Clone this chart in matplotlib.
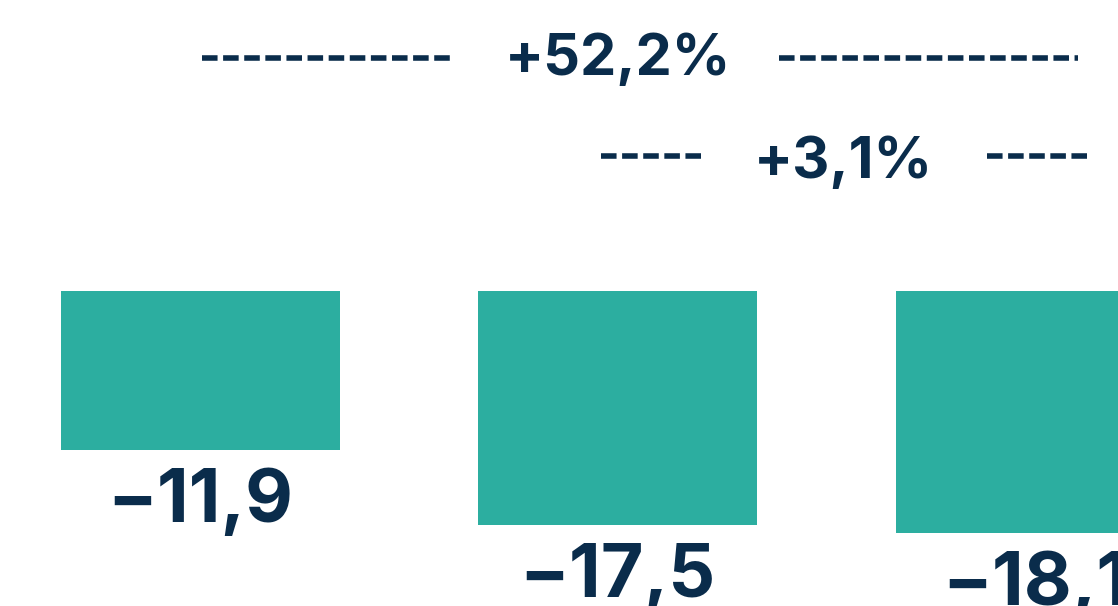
import matplotlib
matplotlib.use("Agg")
import matplotlib.pyplot as plt

# data
values = [-11.9, -17.5, -18.1]
value_labels = ["\u221211,9", "\u221217,5", "\u221218,1"]
changes = ["+52,2%", "+3,1%"]

TEAL = "#2CAEA0"
NAVY = "#0A2C4B"

plt.rcParams['font.family'] = ['Inter', 'DejaVu Sans']

fig = plt.figure(figsize=(11.18, 6.06), dpi=100)
ax = fig.add_axes([0, 0, 1, 1])

x = list(range(len(values)))
ax.bar(x, values, width=0.668, color=TEAL)

ax.set_xlim(-0.480, 2.198)
ax.set_ylim(-23.6, 21.8)
ax.axis("off")

# value labels under bars
for xi, v, lab in zip(x, values, value_labels):
    ax.text(xi, v - 5.4, lab, ha="center", va="baseline", fontsize=53,
            fontweight="bold", color=NAVY, clip_on=False)

# change brackets: dashed lines around label
dash = dict(color=NAVY, lw=4, linestyle=(0, (2.8, 1.0)), dash_capstyle="butt")

# bar 1 -> bar 3
ax.plot([0.004, 0.602], [17.48, 17.48], **dash)
ax.plot([1.385, 2.102], [17.48, 17.48], **dash)
ax.text(1.0, 16.18, changes[0], ha="center", va="baseline", fontsize=41.5,
        fontweight="bold", color=NAVY)

# bar 2 -> bar 3
ax.plot([0.959, 1.204], [10.11, 10.11], **dash)
ax.plot([1.884, 2.124], [10.11, 10.11], **dash)
ax.text(1.540, 8.47, changes[1], ha="center", va="baseline", fontsize=41.5,
        fontweight="bold", color=NAVY)

fig.savefig("out.png", dpi=100)
